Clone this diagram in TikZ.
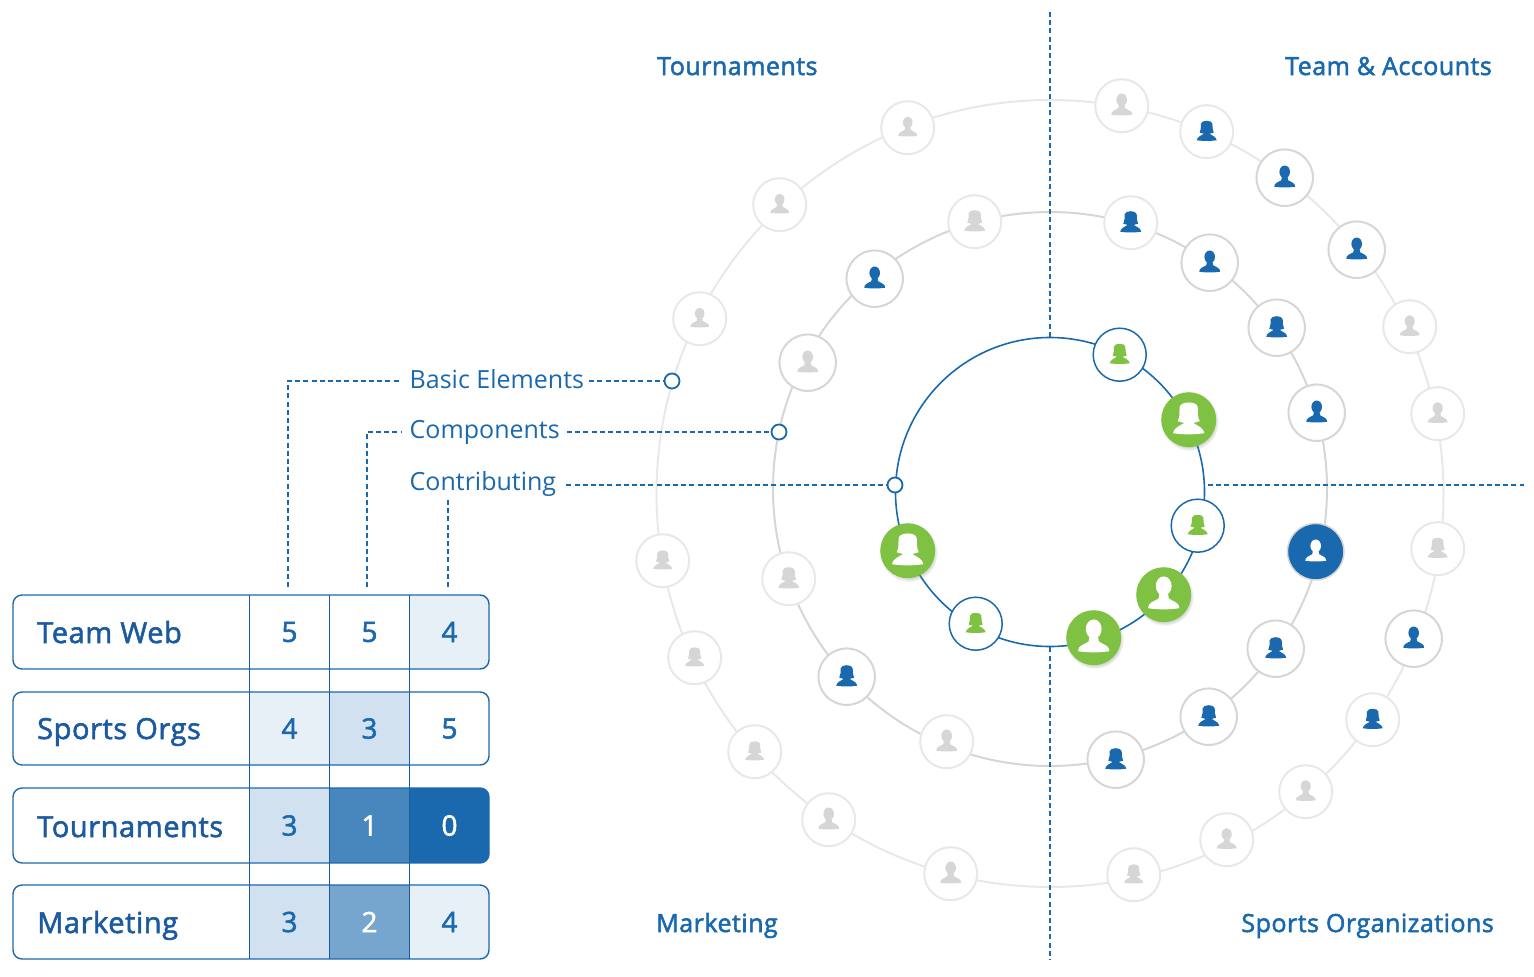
\documentclass[tikz,border=0pt]{standalone}
\usepackage{fontspec}
\setmainfont{Open Sans}
\newfontfamily\semifont[LetterSpace=2]{Open Sans}
\newcommand{\semitext}[1]{\special{pdf:code q 2 Tr 0.55 w}#1\special{pdf:code Q}}
\usetikzlibrary{calc, positioning, shadows}

\definecolor{mainblue}{HTML}{1A69AE}
\definecolor{darkblue}{HTML}{1B5A9F}
\definecolor{leafgreen}{HTML}{7FC243}
\definecolor{ringgrey}{HTML}{D6D6D6}
\definecolor{faintgrey}{HTML}{E8E8EA}
\definecolor{icongrey}{HTML}{D6D6D6}

\tikzset{
    pics/man/.style={code={
        \path[pic actions] (0,-5.8) ellipse [x radius=5.3, y radius=6.4];
        \path[pic actions] (-10.5,9) .. controls (-10.5,5) and (-6,4.5) .. (-3.4,2.5) -- (-2.8,-1) -- (2.8,-1) -- (3.4,2.5)
            .. controls (6,4.5) and (10.5,5) .. (10.5,9) .. controls (4,10) and (-4,10) .. (-10.5,9) -- cycle;
    }},
    pics/woman/.style={code={
        \path[pic actions] (-10.5,9) .. controls (-10,5.5) and (-6,4) .. (-3,2.2) -- (-7.4,1)
            .. controls (-5.5,-2) and (-6.5,-5) .. (-6,-8.5) .. controls (-5.5,-12.5) and (5.5,-12.5) .. (6,-8.5)
            .. controls (6.5,-5) and (5.5,-2) .. (7.4,1) -- (3,2.2)
            .. controls (6,4) and (10,5.5) .. (10.5,9) .. controls (4,10) and (-4,10) .. (-10.5,9) -- cycle;
    }},
    smallperson/.style={circle, draw=faintgrey, line width=2pt, fill=white, minimum size=53pt, inner sep=0pt},
    bigperson/.style={circle, draw=ringgrey, line width=2pt, fill=white, minimum size=56.5pt, inner sep=0pt},
    openperson/.style={circle, draw=mainblue, line width=1.5pt, fill=white, minimum size=53pt, inner sep=0pt},
    greenperson/.style={circle, fill=leafgreen, minimum size=55pt, inner sep=0pt,
        circular drop shadow={shadow xshift=1pt, shadow yshift=-2pt, shadow scale=1.06, opacity=0.35}},
    blueperson/.style={circle, draw=ringgrey, line width=1.5pt, fill=mainblue, minimum size=56.5pt, inner sep=0pt},
    ringnode/.style={circle, draw=#1, minimum size=0pt, inner sep=0pt, fill=none},
    dashline/.style={draw=mainblue, line width=1.8pt, dash pattern=on 5pt off 3.2pt},
    dotnode/.style={circle, draw=mainblue, line width=1.8pt, fill=white, minimum size=15pt, inner sep=0pt},
    titlenode/.style={text=mainblue, font=\semifont\fontsize{25}{30}\selectfont, inner sep=0pt},
    labelnode/.style={text=mainblue, font=\fontsize{25}{30}\selectfont, inner sep=0pt, anchor=base west},
    rowlabel/.style={text=darkblue, font=\semifont\fontsize{29}{34}\selectfont, inner sep=0pt, anchor=base west},
    cellbase/.style={minimum width=80pt, inner sep=0pt, outer sep=0pt, font=\semifont\fontsize{28}{32}\selectfont},
    cell5/.style={cellbase, fill=white, text=mainblue},
    cell4/.style={cellbase, fill=mainblue!10, text=mainblue},
    cell3/.style={cellbase, fill=mainblue!20, text=mainblue},
    cell2/.style={cellbase, fill=mainblue!60, text=white},
    cell1/.style={cellbase, fill=mainblue!80, text=white},
    cell0/.style={cellbase, fill=mainblue, text=white},
}

\begin{document}
\begin{tikzpicture}[x=1pt, y=-1pt]
    \useasboundingbox (0,0) rectangle (1534,977);

    % Rings
    \node[ringnode=faintgrey, line width=2pt, minimum size=787pt] (outerRing) at (1050,493.5) {};
    \node[ringnode=ringgrey, line width=2pt, minimum size=554pt] (midRing) at (1050,489) {};
    \node[ringnode=mainblue, line width=1.6pt, minimum size=309pt] (innerRing) at (1050,492) {};

    % Rows of the table
    \foreach \rowname/\rowtext/\ytop/\ybot/\vals in {
        teamWeb/Team Web/595/669/{5,5,4},
        sportsOrgs/Sports Orgs/692/765/{4,3,5},
        tournaments/Tournaments/788/863/{3,1,0},
        marketing/Marketing/885/959/{3,2,4}} {
        \begin{scope}
            \clip[rounded corners=9pt] (13,\ytop) rectangle (489,\ybot);
            \foreach \v [count=\i] in \vals {
                \node[cell\v, minimum height={(\ybot-\ytop)*1pt}] (\rowname-\i) at ({209.5+80*\i},{(\ytop+\ybot)/2}) {\raisebox{-0.7pt}{\semitext{\v}}};
            }
        \end{scope}
        \draw[mainblue, line width=1.4pt, rounded corners=9pt] (13,\ytop) rectangle (489,\ybot);
        \node[rowlabel] (\rowname-label) at (37,{\ybot-26}) {\semitext{\rowtext}};
    }
    \foreach \i in {1,2,3} {
        \draw[darkblue, line width=1pt] (teamWeb-\i.north west) -- (marketing-\i.south west);
    }

    % Titles of the quarters
    \node[titlenode, anchor=base west] (titleTour) at (657,75) {\semitext{Tournaments}};
    \node[titlenode, anchor=base east] (titleTeam) at (1492,75) {\semitext{Team \& Accounts}};
    \node[titlenode, anchor=base west] (titleMark) at (656,932) {\semitext{Marketing}};
    \node[titlenode, anchor=base east] (titleSport) at (1494,932) {\semitext{Sports Organizations}};

    % Labels and their dots
    \node[labelnode] (lblBasic) at (409.5,388) {Basic Elements};
    \node[labelnode] (lblComp) at (409.5,438) {Components};
    \node[labelnode] (lblContrib) at (409.5,490) {Contributing};
    \node[dotnode] (dotBasic) at (672,381) {};
    \node[dotnode] (dotComp) at (779,432) {};
    \node[dotnode] (dotContrib) at (895,485) {};

    \coordinate (colA) at (288,587);
    \coordinate (colB) at (367,587);
    \coordinate (colC) at (448,587);
    \coordinate (kneeC) at (448,500);
    \coordinate (axisTop) at (1050,12);
    \coordinate (axisBottom) at (1050,960);
    \coordinate (axisLeft) at (1208,485);
    \coordinate (axisRight) at (1524,485);

    % Dashed connections
    \draw[dashline] (colA) |- ([xshift=-8pt]lblBasic.west |- dotBasic);
    \draw[dashline] (colB) |- ([xshift=-8pt]lblComp.west |- dotComp);
    \draw[dashline] (colC) -- (kneeC);
    \draw[dashline] ([xshift=5pt]lblBasic.east |- dotBasic) -- (dotBasic);
    \draw[dashline] ([xshift=7pt]lblComp.east |- dotComp) -- (dotComp);
    \draw[dashline] ([xshift=10pt]lblContrib.east |- dotContrib) -- (dotContrib);
    \draw[dashline] (axisTop) -- (innerRing.north);
    \draw[dashline] (innerRing.south) -- (axisBottom);
    \draw[dashline] (axisLeft) -- (axisRight);

    % People
    \foreach \pname/\px/\py/\pstyle/\picon/\pcol/\pscale in {
        oa/908/127/smallperson/man/icongrey/0.9,
        ob/780/204/smallperson/man/icongrey/0.9,
        oc/700/318/smallperson/man/icongrey/0.9,
        od/663/560/smallperson/woman/icongrey/0.9,
        oe/695/657/smallperson/woman/icongrey/0.9,
        of/755/751/smallperson/woman/icongrey/0.9,
        og/829/819/smallperson/man/icongrey/1,
        oh/951/873/smallperson/man/icongrey/1,
        oi/1134/874/smallperson/woman/icongrey/0.9,
        oj/1227/839/smallperson/man/icongrey/0.95,
        ok/1306/791/smallperson/man/icongrey/0.95,
        ol/1122/105/smallperson/man/icongrey/1,
        om/1207/131/smallperson/woman/mainblue/0.95,
        on/1285/177/bigperson/man/mainblue/1,
        oo/1357/249/bigperson/man/mainblue/1,
        op/1410/326/smallperson/man/icongrey/0.95,
        oq/1438/413/smallperson/man/icongrey/0.95,
        or/1438/548/smallperson/woman/icongrey/0.95,
        os/1414/638/bigperson/man/mainblue/1,
        ot/1373/719/smallperson/woman/mainblue/0.95,
        ma/975/221/smallperson/woman/icongrey/1,
        mb/875/278/bigperson/man/mainblue/1,
        mc/808/362/bigperson/man/icongrey/1,
        md/789/578/smallperson/woman/icongrey/1,
        me/847/676/bigperson/woman/mainblue/1,
        mf/947/741/smallperson/man/icongrey/1,
        mg/1116/759/bigperson/woman/mainblue/1,
        mh/1209/716/bigperson/woman/mainblue/1,
        mi/1276/648/bigperson/woman/mainblue/1,
        mj/1316/551/blueperson/man/white/1,
        mk/1317/412/bigperson/man/mainblue/1,
        ml/1277/327/bigperson/woman/mainblue/1,
        mm/1210/262/bigperson/man/mainblue/1,
        mn/1131/222/smallperson/woman/mainblue/1,
        ia/1120/354/openperson/woman/leafgreen/0.95,
        ib/1189/419/greenperson/woman/white/1.5,
        ic/1198/525/openperson/woman/leafgreen/0.95,
        id/1164/594/greenperson/man/white/1.5,
        ie/1094/637/greenperson/man/white/1.5,
        ig/976/623/openperson/woman/leafgreen/0.95,
        ih/908/550/greenperson/woman/white/1.5} {
        \node[\pstyle] (\pname) at ({\px-0.3},{\py+0.7}) {};
        \pic[fill=\pcol, scale=\pscale] at (\pname) {\picon};
    }
\end{tikzpicture}
\end{document}
